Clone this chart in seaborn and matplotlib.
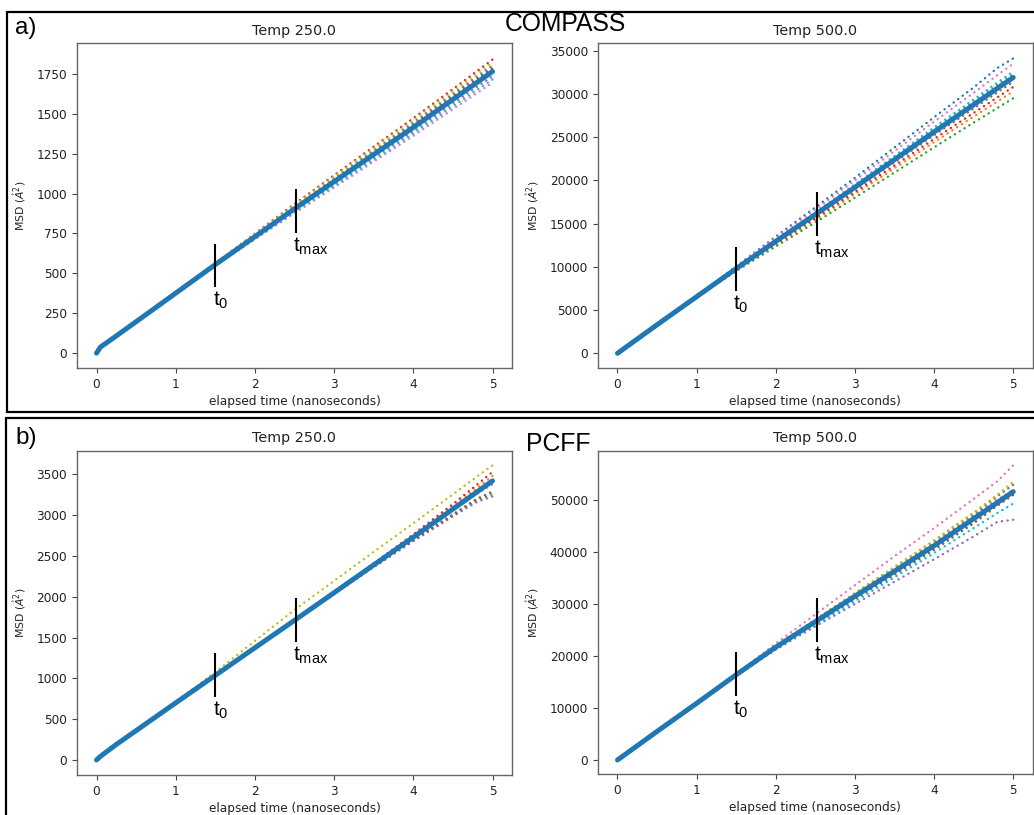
import seaborn as sns
import matplotlib.pyplot as plt
from matplotlib.lines import Line2D

# elapsed time knots (ns)
time_ns = [0, 0.05, 0.25, 0.5, 1.0, 1.5, 2.0, 2.5, 3.0, 3.5, 4.0, 4.5, 4.8, 5.0]

# COMPASS, 250 K
compass_250_mean = [0, 38, 108, 197, 376, 555, 730, 905, 1075, 1245, 1415, 1590, 1695, 1765]
compass_250_runs = [
    [0, 38, 108, 197, 376, 556, 731, 907, 1078, 1248, 1419, 1594, 1700, 1770],
    [0, 38, 108, 197, 376, 554, 728, 901, 1070, 1239, 1407, 1581, 1686, 1755],
    [0, 38, 108, 197, 376, 557, 734, 911, 1083, 1255, 1426, 1603, 1709, 1780],
    [0, 38, 108, 197, 376, 563, 749, 935, 1115, 1294, 1472, 1655, 1766, 1840],
    [0, 38, 108, 197, 376, 552, 723, 893, 1059, 1226, 1392, 1564, 1667, 1735],
    [0, 38, 108, 197, 376, 558, 736, 915, 1088, 1261, 1434, 1612, 1719, 1790],
    [0, 38, 108, 197, 376, 548, 713, 877, 1038, 1200, 1362, 1529, 1629, 1695],
    [0, 38, 108, 197, 376, 559, 740, 921, 1096, 1271, 1445, 1625, 1733, 1805],
    [0, 38, 108, 197, 376, 561, 745, 929, 1107, 1284, 1461, 1642, 1752, 1825],
    [0, 38, 108, 197, 376, 550, 718, 885, 1049, 1213, 1377, 1547, 1648, 1715],
]

# COMPASS, 500 K
compass_500_mean = [0, 330, 1650, 3300, 6550, 9800, 12950, 16050, 19200, 22400, 25600, 28750, 30650, 31900]
compass_500_runs = [
    [0, 330, 1650, 3300, 6600, 10060, 13500, 16890, 20300, 23800, 27300, 30750, 33000, 34100],
    [0, 330, 1650, 3300, 6520, 9608, 12550, 15442, 18400, 21408, 24416, 27374, 29130, 30300],
    [0, 330, 1650, 3300, 6500, 9512, 12350, 15138, 18000, 20912, 23824, 26686, 28370, 29500],
    [0, 330, 1650, 3300, 6530, 9668, 12675, 15632, 18650, 21718, 24786, 27804, 29605, 30800],
    [0, 330, 1650, 3300, 6550, 9812, 12975, 16088, 19250, 22462, 25674, 28836, 30745, 32000],
    [0, 330, 1650, 3300, 6540, 9740, 12825, 15860, 18950, 22090, 25230, 28320, 30175, 31400],
    [0, 330, 1650, 3300, 6580, 9992, 13350, 16658, 20000, 23392, 26784, 30126, 32170, 33500],
    [0, 330, 1650, 3300, 6560, 9848, 13050, 16202, 19400, 22648, 25896, 29094, 31030, 32300],
    [0, 330, 1650, 3300, 6545, 9764, 12875, 15936, 19050, 22214, 25378, 28492, 30365, 31600],
    [0, 330, 1650, 3300, 6565, 9884, 13125, 16316, 19550, 22834, 26118, 29352, 31315, 32600],
]

# PCFF, 250 K
pcff_250_mean = [0, 45, 190, 360, 700, 1037, 1375, 1711, 2050, 2390, 2730, 3075, 3282, 3420]
pcff_250_runs = [
    [0, 45, 190, 360, 700, 1037, 1375, 1711, 2051, 2392, 2734, 3080, 3292, 3430],
    [0, 45, 190, 360, 700, 1037, 1376, 1713, 2055, 2405, 2755, 3110, 3330, 3480],
    [0, 45, 190, 360, 700, 1036, 1372, 1706, 2043, 2368, 2690, 3000, 3180, 3260],
    [0, 45, 190, 360, 700, 1037, 1377, 1716, 2060, 2410, 2765, 3135, 3370, 3530],
    [0, 45, 190, 360, 700, 1034, 1368, 1700, 2036, 2362, 2680, 2985, 3160, 3230],
    [0, 45, 190, 360, 700, 1035, 1370, 1703, 2040, 2372, 2695, 3010, 3200, 3290],
    [0, 45, 190, 360, 700, 1035, 1371, 1706, 2045, 2385, 2725, 3070, 3280, 3410],
    [0, 45, 190, 360, 700, 1036, 1373, 1708, 2047, 2384, 2718, 3055, 3260, 3380],
    [0, 46, 193, 366, 712, 1075, 1460, 1840, 2195, 2550, 2900, 3255, 3470, 3610],
    [0, 45, 190, 360, 700, 1036, 1374, 1709, 2048, 2388, 2727, 3068, 3275, 3400],
]

# PCFF, 500 K
pcff_500_mean = [0, 550, 2750, 5500, 10900, 16400, 21700, 26600, 31500, 36300, 41200, 46400, 49500, 51600]
pcff_500_runs = [
    [0, 550, 2750, 5500, 10900, 16400, 21750, 26700, 31650, 36500, 41400, 46600, 49700, 51800],
    [0, 550, 2750, 5500, 10920, 16450, 21950, 27050, 32100, 37100, 42200, 47500, 50900, 53000],
    [0, 550, 2750, 5500, 10880, 16300, 21600, 26400, 31200, 35900, 40800, 45900, 49200, 51400],
    [0, 550, 2750, 5500, 10910, 16420, 21800, 26800, 31800, 36700, 41700, 46900, 50000, 51900],
    [0, 550, 2750, 5500, 10850, 16200, 21200, 25700, 30000, 34300, 38600, 43000, 45800, 46200],
    [0, 550, 2750, 5500, 10880, 16320, 21500, 26200, 30900, 35600, 40400, 45500, 48900, 50960],
    [0, 550, 2750, 5500, 10950, 16600, 22400, 28000, 33600, 39200, 44600, 50200, 53600, 56700],
    [0, 550, 2750, 5500, 10910, 16430, 21850, 26900, 31900, 36800, 41800, 47100, 50700, 52900],
    [0, 550, 2750, 5500, 10930, 16470, 21950, 27000, 32100, 37100, 42200, 47600, 51000, 53500],
    [0, 550, 2750, 5500, 10860, 16250, 21350, 25900, 30500, 35100, 39800, 44600, 47500, 49300],
]

# t0 / tmax markers: times and the vertical extent of each marker bar
marker_times = [1.5, 2.52]
marker_labels = [r'$\mathregular{t_0}$', r'$\mathregular{t_{max}}$']
compass_250_bars = [(415, 685), (754, 1029)]
compass_500_bars = [(7240, 12330), (13600, 18690)]
pcff_250_bars = [(768, 1307), (1442, 1981)]
pcff_500_bars = [(12310, 20710), (22630, 31090)]

titles = ['Temp 250.0', 'Temp 500.0', 'Temp 250.0', 'Temp 500.0']
ylims = [(-95, 1942), (-1735, 35855), (-184, 3790), (-2750, 59480)]

sns.set_style("ticks")
plt.rcParams['font.family'] = ['DejaVu Sans']
plt.rcParams.update({
    'axes.edgecolor': '#666666',
    'axes.linewidth': 1.0,
    'xtick.color': '#444444',
    'ytick.color': '#444444',
    'xtick.labelcolor': '#222222',
    'ytick.labelcolor': '#222222',
    'text.color': '#222222',
    'axes.labelcolor': '#222222',
})

W, H = 1034, 815
fig = plt.figure(figsize=(W / 100, H / 100), dpi=100)
fig.patch.set_facecolor('white')


def px_axes(left, top, right, bottom):
    return fig.add_axes([left / W, 1 - bottom / H, (right - left) / W, (bottom - top) / H])


axes = [
    px_axes(76.7, 43.3, 512.3, 368.3),
    px_axes(597.7, 43.3, 1033, 368.3),
    px_axes(76.7, 450.7, 512.3, 775),
    px_axes(597.7, 450.7, 1033, 774.3),
]

panels = [
    (compass_250_mean, compass_250_runs, compass_250_bars),
    (compass_500_mean, compass_500_runs, compass_500_bars),
    (pcff_250_mean, pcff_250_runs, pcff_250_bars),
    (pcff_500_mean, pcff_500_runs, pcff_500_bars),
]

colors = sns.color_palette('tab10')

for ax, (mean, runs, bars), title, ylim in zip(axes, panels, titles, ylims):
    for i, run in enumerate(runs):
        sns.lineplot(x=time_ns, y=run, ax=ax, color=colors[i], linewidth=1.7,
                     linestyle=(0, (0.1, 2.3)), dash_capstyle='round', zorder=2)
    sns.lineplot(x=time_ns, y=mean, ax=ax, color=colors[0], linewidth=3.6, zorder=3)

    for t, (lo, hi), lab in zip(marker_times, bars, marker_labels):
        ax.vlines(t, lo, hi, color='black', linewidth=1.5, zorder=4)
        ax.annotate(lab, xy=(t, lo), xytext=(-2, -2), textcoords='offset points',
                    ha='left', va='top', fontsize=15, family='Liberation Sans', color='black')

    ax.set_xlim(-0.25, 5.25)
    ax.set_ylim(*ylim)
    ax.set_xticks([0, 1, 2, 3, 4, 5])
    ax.set_title(title, fontsize=10.4, pad=6)
    ax.set_xlabel('elapsed time (nanoseconds)', fontsize=8.7, labelpad=3)
    ax.set_ylabel(r'MSD ($\mathring{A}^2$)', fontsize=7.8, labelpad=6)
    ax.tick_params(labelsize=8.7, length=3.5, width=0.8)
    for s in ax.spines.values():
        s.set_visible(True)


def frame_line(x0, y0, x1, y1):
    fig.add_artist(Line2D([x0 / W, x1 / W], [1 - y0 / H, 1 - y1 / H],
                          transform=fig.transFigure, color='black', linewidth=1.6))


# outer panel frames
frame_line(7, 12, 1034, 12)
frame_line(7, 12, 7, 412.5)
frame_line(7, 412.5, 1034, 412.5)
frame_line(6, 418.3, 1034, 418.3)
frame_line(6, 418.3, 6, 815)

lab_font = dict(family='Liberation Sans', color='black', va='center', ha='left')
fig.text(15 / W, 1 - 28 / H, 'a)', fontsize=17.5, **lab_font)
fig.text(505 / W, 1 - 24 / H, 'COMPASS', fontsize=17.8, **lab_font)
fig.text(15 / W, 1 - 438 / H, 'b)', fontsize=17.5, **lab_font)
fig.text(526.5 / W, 1 - 444 / H, 'PCFF', fontsize=17.8, **lab_font)

fig.savefig('out.png', dpi=100)
